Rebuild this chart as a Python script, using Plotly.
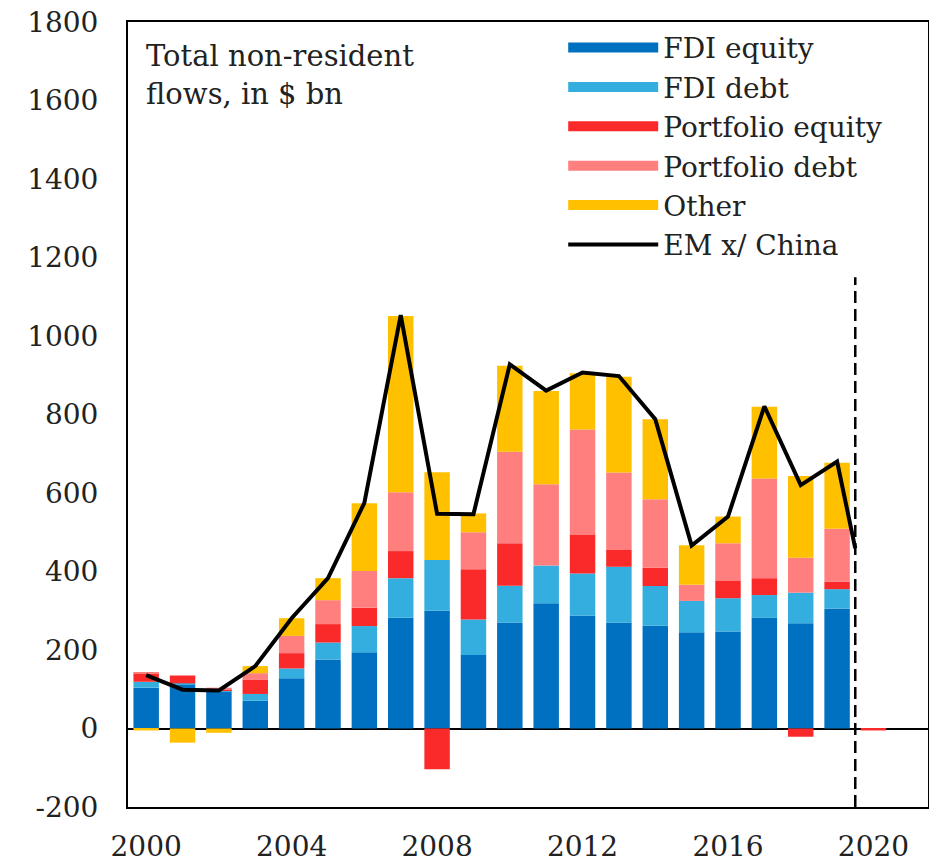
import plotly.graph_objects as go

years = list(range(2000, 2021))
fdi_equity =       [104, 112, 94, 71, 128, 176, 194, 282, 300, 187, 270, 319, 287, 270, 262, 245, 247, 282, 268, 306, 0]
fdi_debt =         [15, 3, 2, 17, 25, 43, 67, 101, 129, 91, 94, 96, 108, 142, 101, 80, 85, 58, 78, 49, 0]
portfolio_equity = [22, 20, 4, 37, 39, 47, 47, 69, -104, 128, 108, 0, 98, 43, 47, 0, 44, 43, -21, 19, -5]
portfolio_debt =   [3, 0, 4, 16, 44, 61, 93, 150, 0, 94, 233, 207, 269, 197, 174, 41, 96, 254, 89, 135, 0]
other =            [-5, -36, -11, 18, 45, 56, 173, 449, 224, 48, 219, 238, 143, 244, 204, 101, 68, 183, 208, 168, 0]

line_x = [2000, 2001, 2002, 2003, 2004, 2005, 2006, 2007, 2008, 2009, 2010,
          2011, 2012, 2013, 2014, 2015, 2016, 2017, 2018, 2019, 2019.5]
em_ex_china = [136, 99, 97, 159, 281, 383, 575, 1053, 547, 546, 928,
               861, 907, 898, 788, 466, 540, 821, 620, 680, 459]

y_ticks = list(range(-200, 2000, 200))
y_tick_text = [str(v) for v in y_ticks]
x_ticks = [2000, 2004, 2008, 2012, 2016, 2020]
cutoff_x = 2019.5
cutoff_top = 1150

series = [
    ("FDI equity", fdi_equity, "#0070C0"),
    ("FDI debt", fdi_debt, "#33AEDF"),
    ("Portfolio equity", portfolio_equity, "#FA2A2A"),
    ("Portfolio debt", portfolio_debt, "#FF7F7F"),
    ("Other", other, "#FFC000"),
]

FONT = "DejaVu Serif"
fig = go.Figure()
for name, vals, col in series:
    fig.add_trace(go.Bar(x=years, y=vals, name=name, marker=dict(color=col, line=dict(width=0)),
                         showlegend=False))
for name, vals, col in series:
    fig.add_trace(go.Scatter(x=[None], y=[None], mode="lines", name=name,
                             line=dict(color=col, width=17)))
fig.add_trace(go.Scatter(x=line_x, y=em_ex_china, mode="lines", name="EM x/ China",
                         line=dict(color="black", width=4)))

fig.add_shape(type="line", x0=cutoff_x, x1=cutoff_x, y0=y_ticks[0], y1=cutoff_top,
              xref="x", yref="y", line=dict(color="black", width=2.5, dash="12px,6px"))

fig.add_annotation(text="Total non-resident<br>flows, in $ bn", xref="paper", yref="paper",
                   x=0.02, y=0.981, xanchor="left", yanchor="top", showarrow=False, align="left",
                   font=dict(family=FONT, size=29, color="#222"))

fig.update_layout(
    width=929, height=865,
    margin=dict(l=128, r=1, t=22, b=58),
    paper_bgcolor="white", plot_bgcolor="white",
    barmode="relative", bargap=0.3,
    font=dict(family=FONT, size=28, color="#222"),
    legend=dict(x=0.544, y=0.999, xanchor="left", yanchor="top", bgcolor="rgba(0,0,0,0)",
                itemwidth=90, tracegroupgap=0, font=dict(family=FONT, size=28)),
)
fig.update_xaxes(range=[1999.5, 2021.5], tickvals=x_ticks, showgrid=False, zeroline=False,
                 showline=True, linecolor="black", linewidth=2, mirror=True, ticks="",
                 ticklabelstandoff=13, automargin=False)
fig.update_yaxes(range=[-200, 1800], tickvals=y_ticks, ticktext=y_tick_text, showgrid=False,
                 zeroline=True, zerolinecolor="black", zerolinewidth=2, showline=True,
                 linecolor="black", linewidth=2, mirror=True, ticks="", ticklabelstandoff=22,
                 automargin=False)

fig.write_html("out.html", config={"displayModeBar": False},
               post_script="document.body.style.margin='0';document.body.style.overflow='hidden';")
